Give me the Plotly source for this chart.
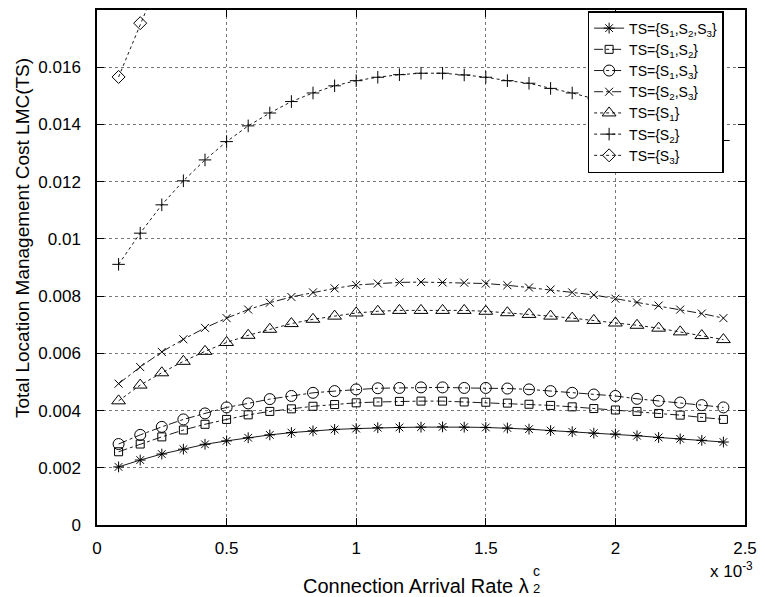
import plotly.graph_objects as go

# Connection arrival rate (in units of 1e-3)
x_rate = [0.0833, 0.1667, 0.25, 0.3333, 0.4167, 0.5, 0.5833, 0.6667, 0.75, 0.8333,
          0.9167, 1.0, 1.0833, 1.1667, 1.25, 1.3333, 1.4167, 1.5, 1.5833, 1.6667,
          1.75, 1.8333, 1.9167, 2.0, 2.0833, 2.1667, 2.25, 2.3333, 2.4167]

lmc_s123 = [0.00203, 0.00227, 0.00248, 0.00265, 0.00282, 0.00294, 0.00305, 0.00315, 0.00323, 0.00329,
            0.00334, 0.00337, 0.00340, 0.00341, 0.00342, 0.00343, 0.00342, 0.00341, 0.00339, 0.00335,
            0.00330, 0.00326, 0.00321, 0.00318, 0.00312, 0.00306, 0.00301, 0.00296, 0.00290]

lmc_s12 = [0.00256, 0.00283, 0.00308, 0.00332, 0.00352, 0.00369, 0.00385, 0.00397, 0.00406, 0.00415,
           0.00421, 0.00427, 0.00430, 0.00432, 0.00433, 0.00433, 0.00430, 0.00429, 0.00426, 0.00422,
           0.00418, 0.00413, 0.00407, 0.00402, 0.00397, 0.00390, 0.00384, 0.00376, 0.00369]

lmc_s13 = [0.00283, 0.00315, 0.00343, 0.00369, 0.00390, 0.00411, 0.00425, 0.00440, 0.00451, 0.00462,
           0.00468, 0.00474, 0.00478, 0.00479, 0.00481, 0.00481, 0.00479, 0.00479, 0.00477, 0.00474,
           0.00468, 0.00462, 0.00456, 0.00451, 0.00441, 0.00434, 0.00428, 0.00419, 0.00411]

lmc_s23 = [0.00494, 0.00552, 0.00605, 0.00649, 0.00689, 0.00723, 0.00753, 0.00777, 0.00797, 0.00813,
           0.00827, 0.00839, 0.00844, 0.00848, 0.00849, 0.00848, 0.00847, 0.00844, 0.00838, 0.00830,
           0.00823, 0.00813, 0.00804, 0.00791, 0.00778, 0.00767, 0.00753, 0.00739, 0.00723]

lmc_s1 = [0.00434, 0.00489, 0.00532, 0.00572, 0.00607, 0.00638, 0.00663, 0.00684, 0.00704, 0.00719,
          0.00730, 0.00741, 0.00747, 0.00750, 0.00750, 0.00750, 0.00750, 0.00747, 0.00742, 0.00736,
          0.00730, 0.00723, 0.00715, 0.00706, 0.00698, 0.00688, 0.00675, 0.00662, 0.00648]

lmc_s2 = [0.00911, 0.01020, 0.01119, 0.01203, 0.01276, 0.01340, 0.01395, 0.01440, 0.01480, 0.01510,
          0.01535, 0.01553, 0.01565, 0.01574, 0.01579, 0.01579, 0.01573, 0.01565, 0.01553, 0.01544,
          0.01526, 0.01510, 0.01490, 0.01467, 0.01443, 0.01418, 0.01392, 0.01368, 0.01344]

lmc_s3 = [0.01566, 0.01754, 0.01930]

y_ticks = [0, 0.002, 0.004, 0.006, 0.008, 0.01, 0.012, 0.014, 0.016]
y_tick_labels = ["0", "0.002", "0.004", "0.006", "0.008", "0.01", "0.012", "0.014", "0.016"]
x_ticks = [0, 0.5, 1, 1.5, 2, 2.5]
x_tick_labels = ["0", "0.5", "1", "1.5", "2", "2.5"]

FONT = "Liberation Sans, Arial, Helvetica, sans-serif"

series = [
    ("TS={S<sub>1</sub>,S<sub>2</sub>,S<sub>3</sub>}", lmc_s123, "asterisk-open", 9, "solid"),
    ("TS={S<sub>1</sub>,S<sub>2</sub>}", lmc_s12, "square-open", 8, "dashdot"),
    ("TS={S<sub>1</sub>,S<sub>3</sub>}", lmc_s13, "circle-open", 11, "dashdot"),
    ("TS={S<sub>2</sub>,S<sub>3</sub>}", lmc_s23, "x-thin-open", 8, "dashdot"),
    ("TS={S<sub>1</sub>}", lmc_s1, "triangle-up-open", 12, "dot"),
    ("TS={S<sub>2</sub>}", lmc_s2, "cross-thin-open", 9, "dot"),
    ("TS={S<sub>3</sub>}", lmc_s3, "diamond-open", 10, "dot"),
]

fig = go.Figure()
for name, vals, sym, size, dash in series:
    fig.add_trace(go.Scatter(
        x=x_rate[:len(vals)], y=vals, name=name, mode="lines+markers",
        line=dict(color="black", width=0.9, dash=dash),
        marker=dict(symbol=sym, size=size, color="black",
                    line=dict(color="black", width=1.0)),
    ))

axis_common = dict(
    showline=True, linecolor="black", linewidth=1.5, mirror="ticks",
    ticks="inside", ticklen=7, tickwidth=1, tickcolor="black",
    showgrid=True, gridcolor="#777", gridwidth=1, griddash="dot",
    zeroline=False, tickfont=dict(family=FONT, size=17, color="black"),
    ticklabeloverflow="allow",
)

fig.update_xaxes(range=[0, 2.5], tickvals=x_ticks, ticktext=x_tick_labels,
                 ticklabelstandoff=7, **axis_common)
fig.update_yaxes(range=[0, 0.018], tickvals=y_ticks, ticktext=y_tick_labels,
                 ticklabelstandoff=11, **axis_common)

fig.update_layout(
    width=765, height=597,
    margin=dict(l=97, r=12, t=8, b=72),
    plot_bgcolor="white", paper_bgcolor="white",
    font=dict(family=FONT, color="black"),
    showlegend=True,
    legend=dict(
        x=0.967, y=0.998, xanchor="right", yanchor="top",
        bgcolor="white", bordercolor="black", borderwidth=1.5,
        font=dict(family=FONT, size=14, color="black"),
        tracegroupgap=0, itemwidth=30,
    ),
    annotations=[
        dict(text="Connection Arrival Rate λ", xref="paper", yref="paper",
             x=0.6695, y=-0.119, xanchor="right", yanchor="middle",
             showarrow=False, font=dict(family=FONT, size=20)),
        dict(text="c", xref="paper", yref="paper",
             x=0.6695, y=-0.089, xanchor="left", yanchor="middle",
             showarrow=False, font=dict(family=FONT, size=14)),
        dict(text="2", xref="paper", yref="paper",
             x=0.6695, y=-0.123, xanchor="left", yanchor="middle",
             showarrow=False, font=dict(family=FONT, size=13)),
        dict(text="x 10<sup>-3</sup>", xref="paper", yref="paper",
             x=1.0157, y=-0.087, xanchor="right", yanchor="middle",
             showarrow=False, font=dict(family=FONT, size=17)),
        dict(text="Total Location Management Cost LMC(TS)", xref="paper", yref="paper",
             x=-0.116, y=0.557, xanchor="center", yanchor="middle", textangle=-90,
             showarrow=False, font=dict(family=FONT, size=19)),
    ],
)

fig.write_html("out.html")
